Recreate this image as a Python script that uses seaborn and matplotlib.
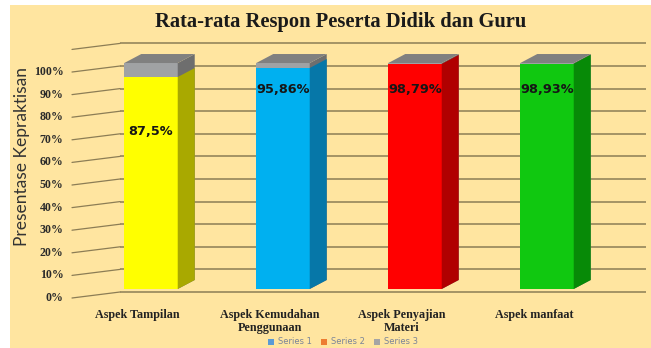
import matplotlib
matplotlib.use("Agg")
import matplotlib.pyplot as plt
import seaborn as sns
import pandas as pd
from matplotlib.patches import Polygon, Rectangle, Patch

# ---------------- data ----------------
categories = ["Aspek Tampilan", "Aspek Kemudahan\nPenggunaan",
              "Aspek Penyajian\nMateri", "Aspek manfaat"]
series1 = [0.938, 0.978, 0.996, 0.997]          # coloured part (as drawn)
series3 = [0.062, 0.022, 0.004, 0.003]          # grey remainder
value_labels = ["87,5%", "95,86%", "98,79%", "98,93%"]
yticks = [0.0, 0.1, 0.2, 0.3, 0.4, 0.5, 0.6, 0.7, 0.8, 0.9, 1.0]
ytick_labels = ["0%", "10%", "20%", "30%", "40%", "50%", "60%",
                "70%", "80%", "90%", "100%"]
legend_labels = ["Series 1", "Series 2", "Series 3"]

# ---------------- style ----------------
front_cols = ["#FFFF00", "#00B0F0", "#FF0000", "#10C810"]
side_cols = ["#A9A900", "#0677A8", "#B00000", "#078A07"]
grey_front, grey_side, grey_top = "#A0A2A4", "#6E6E6E", "#808080"
legend_cols = ["#5B9BD5", "#ED7D31", "#A5A5A5"]
bg = "#FFE5A0"
label_y = [0.695, 0.885, 0.885, 0.885]
bar_w = 0.405
dx, dy = 17 / 132, 9 / 226
XLIM = (-0.6136, 3.75)
YLIM = (-0.05, 1.12)

sns.set_theme(style="white")
plt.rcParams["font.family"] = ["DejaVu Sans"]

W, H = 651, 348
fig = plt.figure(figsize=(W / 100, H / 100), dpi=100)
fig.patch.set_facecolor("white")
fig.patches.append(Rectangle((10 / W, 0), (W - 10) / W, (H - 5) / H,
                             transform=fig.transFigure, facecolor=bg,
                             edgecolor="none", zorder=-10))

ax = fig.add_axes([70 / W, 1 - 300.3 / H, 576 / W, (300.3 - 35.9) / H])
ax.set_facecolor("none")
for s in ax.spines.values():
    s.set_visible(False)

df = pd.DataFrame({"cat": categories,
                   "s1": series1,
                   "total": [a + b for a, b in zip(series1, series3)]})

# grey totals first, coloured series on top
sns.barplot(data=df, x="cat", y="total", color=grey_front, saturation=1,
            width=bar_w, errorbar=None, ax=ax, zorder=2)
n_grey = len(ax.patches)
sns.barplot(data=df, x="cat", y="s1", hue="cat", palette=front_cols,
            saturation=1, width=bar_w, errorbar=None, ax=ax, legend=False,
            zorder=3)
ax.set_xlim(*XLIM)
ax.set_ylim(*YLIM)

# back wall gridlines + floor diagonals
grid_col = "#8C7D55"
xb_left, xf = (120 - 151) / 132, (72 - 151) / 132
for v in yticks + [1.1]:
    yb = v - 3 / 226
    yf = v - 9 / 226
    ax.plot([xb_left, XLIM[1]], [yb, yb], color=grid_col, lw=1.1, zorder=1,
            clip_on=False, solid_capstyle="butt")
    ax.plot([xf, xb_left], [yf, yb], color=grid_col, lw=0.9, zorder=1,
            clip_on=False)
for v, t in zip(yticks, ytick_labels):
    ax.text(xf - 0.065, v - 9 / 226, t, ha="right", va="center",
            fontsize=8.6, fontweight="bold", family="Liberation Serif",
            color="#2a2a2a")

patches = list(ax.patches)
for i, p in enumerate(patches):
    x0, w, y0, h = p.get_x(), p.get_width(), p.get_y(), p.get_height()
    p.set_edgecolor("none")
    grey = i < n_grey
    k = i if grey else i - n_grey
    z = 2 if grey else 3
    sc = grey_side if grey else side_cols[k]
    ax.add_patch(Polygon([(x0 + w, y0), (x0 + w + dx, y0 + dy),
                          (x0 + w + dx, y0 + h + dy), (x0 + w, y0 + h)],
                         closed=True, facecolor=sc, edgecolor="none",
                         zorder=z, clip_on=False))
    if grey:
        top = y0 + h
        ax.add_patch(Polygon([(x0, top), (x0 + w, top),
                              (x0 + w + dx, top + dy), (x0 + dx, top + dy)],
                             closed=True, facecolor=grey_top,
                             edgecolor="none", zorder=3.5, clip_on=False))

# value labels
for i, t in enumerate(value_labels):
    ax.text(i, label_y[i], t, ha="center", va="center", fontsize=9.3,
            fontweight="bold", color="#161616", zorder=5)

# category labels
ax.set_xticks([])
ax.set_yticks([])
ax.set_xlabel("")
ax.set_ylabel("")
for i, c in enumerate(categories):
    ax.text(i - 0.1, -0.088, c, ha="center", va="top", fontsize=8.7,
            fontweight="bold", family="Liberation Serif", color="#222222",
            linespacing=1.15, clip_on=False)
ax.set_xlim(*XLIM)
ax.set_ylim(*YLIM)

# titles
fig.text(341 / W, 1 - 22 / H, "Rata-rata Respon Peserta Didik dan Guru",
         ha="center", va="center", fontsize=14.8, fontweight="bold",
         family="Liberation Serif", color="#1a1a1a")
fig.text(22 / W, 1 - 157 / H, "Presentase Kepraktisan", rotation=90,
         ha="center", va="center", fontsize=12.5, family="Lato",
         color="#333333")

handles = [Patch(facecolor=c, edgecolor="none") for c in legend_cols]
leg = fig.legend(handles, legend_labels, loc="center",
                 bbox_to_anchor=(343 / W, 1 - 342 / H), ncol=3,
                 frameon=False, fontsize=6, handlelength=0.7,
                 handleheight=0.7, columnspacing=1.2, handletextpad=0.4)
for t in leg.get_texts():
    t.set_color("#7A8599")

fig.savefig("out.png", dpi=100, facecolor="white")
